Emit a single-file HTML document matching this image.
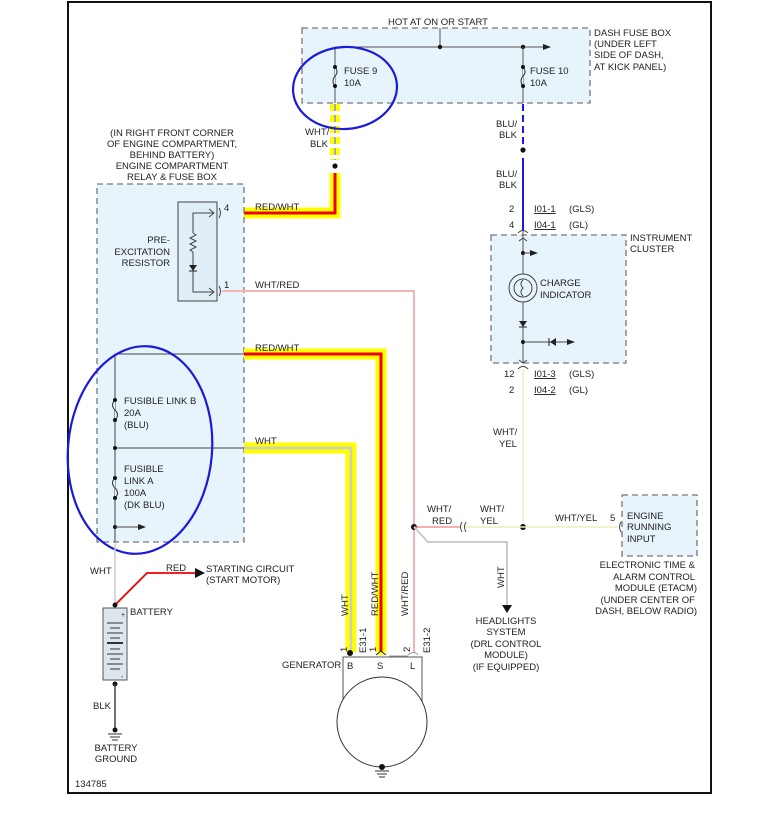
<!DOCTYPE html>
<html><head><meta charset="utf-8"><style>
html,body{margin:0;padding:0;background:#fff;}
svg{display:block;}
text{font-family:"Liberation Sans",sans-serif;font-size:9.5px;fill:#222;}
</style></head><body>
<svg width="771" height="815" viewBox="0 0 771 815" xmlns="http://www.w3.org/2000/svg">
<defs>
<marker id="ar" markerWidth="8" markerHeight="8" refX="7" refY="4" orient="auto" markerUnits="userSpaceOnUse"><path d="M0,1 L8,4 L0,7 z" fill="#222"/></marker>
</defs>
<rect x="68" y="2" width="643" height="791" fill="#fff" stroke="#111" stroke-width="2"/>

<!-- dash fuse box -->
<rect x="302" y="28" width="288" height="75" fill="#e8f4fc" stroke="#777" stroke-width="1.3" stroke-dasharray="6,4"/>
<text x="388" y="25">HOT AT ON OR START</text>
<line x1="440" y1="28" x2="440" y2="47" stroke="#555"/>
<line x1="335" y1="47" x2="550" y2="47" stroke="#555" marker-end="url(#ar)"/>
<circle cx="440" cy="47" r="2.2" fill="#111"/><circle cx="523" cy="47" r="2.2" fill="#111"/>
<line x1="335" y1="47" x2="335" y2="103" stroke="#555"/>
<line x1="523" y1="47" x2="523" y2="103" stroke="#555"/>
<path d="M335,67 q4,5 0,9 q-4,5 0,10" fill="#e8f4fc" stroke="#333"/>
<path d="M523,67 q4,5 0,9 q-4,5 0,10" fill="#e8f4fc" stroke="#333"/>
<circle cx="335" cy="67" r="2" fill="#111"/><circle cx="335" cy="86" r="2" fill="#111"/>
<circle cx="523" cy="67" r="2" fill="#111"/><circle cx="523" cy="86" r="2" fill="#111"/>
<text x="344" y="74">FUSE 9</text><text x="344" y="86">10A</text>
<text x="530" y="74">FUSE 10</text><text x="530" y="86">10A</text>
<text x="594" y="36">DASH FUSE BOX</text><text x="594" y="47">(UNDER LEFT</text><text x="594" y="58">SIDE OF DASH,</text><text x="594" y="70">AT KICK PANEL)</text>

<!-- fuse9 wire -->
<line x1="335" y1="104" x2="335" y2="160" stroke="#ffff00" stroke-width="10" stroke-dasharray="7,4"/>
<line x1="335" y1="104" x2="335" y2="160" stroke="#aaa" stroke-width="2" stroke-dasharray="7,4"/>
<text x="305" y="135">WHT/</text><text x="310" y="147">BLK</text>
<circle cx="335" cy="166" r="2.6" fill="#111"/>
<path d="M335,173 V213 H222" fill="none" stroke="#ffff00" stroke-width="11"/>
<path d="M335,173 V213 H222" fill="none" stroke="#ee0000" stroke-width="3"/>
<ellipse cx="345" cy="88" rx="52" ry="41" fill="none" stroke="#1a1adb" stroke-width="2.2" transform="rotate(-4 345 88)"/>

<!-- engine box -->
<text x="172" y="136" text-anchor="middle">(IN RIGHT FRONT CORNER</text>
<text x="172" y="147" text-anchor="middle">OF ENGINE COMPARTMENT,</text>
<text x="172" y="158" text-anchor="middle">BEHIND BATTERY)</text>
<text x="172" y="169" text-anchor="middle">ENGINE COMPARTMENT</text>
<text x="172" y="180" text-anchor="middle">RELAY &amp; FUSE BOX</text>
<rect x="97" y="184" width="147" height="358" fill="#e8f4fc" stroke="#777" stroke-width="1.3" stroke-dasharray="6,4"/>
<rect x="178" y="202" width="39" height="99" fill="#e0eef8" stroke="#444"/>
<path d="M193,233 V213 H213" fill="none" stroke="#444"/><path d="M209,209 L214,213 L209,217" fill="none" stroke="#444"/>
<path d="M193,233 l3,2 l-6,3 l6,3 l-6,3 l6,3 l-6,3 l3,2 V292 H213" fill="none" stroke="#444"/>
<path d="M209,288 L214,292 L209,296" fill="none" stroke="#444"/>
<path d="M189,265 h8 l-4,6 z" fill="#222"/><line x1="189" y1="271" x2="197" y2="271" stroke="#222"/>
<text x="170" y="243" text-anchor="end">PRE-</text><text x="170" y="255" text-anchor="end">EXCITATION</text><text x="170" y="266" text-anchor="end">RESISTOR</text>
<text x="224" y="211">4</text><text x="224" y="288">1</text>
<path d="M219,208 q3,5 0,10 M219,286 q3,5 0,10" fill="none" stroke="#444"/>
<text x="255" y="210">RED/WHT</text>
<path d="M222,291 H414 V652" fill="none" stroke="#f4b4b4" stroke-width="2"/>
<text x="255" y="288">WHT/RED</text>

<!-- fusible links -->
<path d="M244,354 H115 V600" fill="none" stroke="#444"/>
<line x1="115" y1="448" x2="244" y2="448" stroke="#444"/>
<path d="M115,400 q-5,5 0,10 q5,5 0,10" fill="#e8f4fc" stroke="#333"/>
<path d="M115,478 q-5,5 0,10 q5,5 0,10" fill="#e8f4fc" stroke="#333"/>
<circle cx="115" cy="400" r="2" fill="#111"/><circle cx="115" cy="420" r="2" fill="#111"/>
<circle cx="115" cy="478" r="2" fill="#111"/><circle cx="115" cy="498" r="2" fill="#111"/>
<circle cx="115" cy="448" r="2" fill="#111"/><circle cx="115" cy="527" r="2" fill="#111"/>
<line x1="115" y1="527" x2="145" y2="527" stroke="#444" marker-end="url(#ar)"/>
<text x="124" y="404">FUSIBLE LINK B</text><text x="124" y="416">20A</text><text x="124" y="428">(BLU)</text>
<text x="124" y="472">FUSIBLE</text><text x="124" y="484">LINK A</text><text x="124" y="496">100A</text><text x="124" y="508">(DK BLU)</text>
<path d="M244,354 H381 V652" fill="none" stroke="#ffff00" stroke-width="11"/>
<path d="M244,354 H381 V652" fill="none" stroke="#ee0000" stroke-width="3"/>
<text x="255" y="351">RED/WHT</text>
<path d="M244,448 H351 V652" fill="none" stroke="#ffff00" stroke-width="11"/>
<path d="M244,448 H351 V652" fill="none" stroke="#ccc" stroke-width="2.5"/>
<text x="255" y="444">WHT</text>
<ellipse cx="140" cy="450" rx="72" ry="104" fill="none" stroke="#1a1adb" stroke-width="2.2" transform="rotate(5 140 450)"/>

<!-- battery -->
<line x1="115" y1="542" x2="115" y2="605" stroke="#ccc" stroke-width="1.5"/>
<text x="90" y="574">WHT</text>
<polyline points="115,605 147,573 198,573" fill="none" stroke="#ee0000" stroke-width="1.8"/>
<path d="M195,568 L205,573 L195,578 z" fill="#111"/>
<text x="166" y="571">RED</text>
<text x="206" y="572">STARTING CIRCUIT</text><text x="206" y="583">(START MOTOR)</text>
<circle cx="115" cy="605" r="2.5" fill="#111"/>
<rect x="103" y="608" width="24" height="72" fill="#dde6ee" stroke="#555"/>
<text x="121" y="617" style="font-size:7px">+</text><text x="121" y="679" style="font-size:7px">-</text>
<g stroke="#333">
<line x1="107" y1="623" x2="123" y2="623"/><line x1="110" y1="628" x2="120" y2="628"/>
<line x1="107" y1="633" x2="123" y2="633"/><line x1="110" y1="638" x2="120" y2="638"/>
<line x1="107" y1="643" x2="123" y2="643" stroke-width="2"/><line x1="110" y1="649" x2="120" y2="649"/>
<line x1="107" y1="654" x2="123" y2="654"/><line x1="110" y1="659" x2="120" y2="659"/>
<line x1="107" y1="664" x2="123" y2="664"/><line x1="110" y1="669" x2="120" y2="669"/>
</g>
<text x="130" y="615">BATTERY</text>
<circle cx="115" cy="684" r="2.5" fill="#111"/>
<line x1="115" y1="684" x2="115" y2="728" stroke="#444" stroke-width="1.5"/>
<text x="93" y="709">BLK</text>
<circle cx="115" cy="730" r="2.5" fill="#111"/>
<line x1="108" y1="734" x2="122" y2="734" stroke="#333"/><line x1="110" y1="737" x2="120" y2="737" stroke="#333"/><line x1="112" y1="740" x2="118" y2="740" stroke="#333"/>
<text x="116" y="751" text-anchor="middle">BATTERY</text><text x="116" y="762" text-anchor="middle">GROUND</text>
<text x="75" y="787">134785</text>

<!-- generator -->
<rect x="343" y="657" width="79" height="45" fill="#fff" stroke="#555"/>
<circle cx="382" cy="722" r="45" fill="#fff" stroke="#333"/>
<circle cx="382" cy="767" r="3" fill="#111"/>
<line x1="375" y1="771" x2="389" y2="771" stroke="#333"/><line x1="377" y1="774" x2="387" y2="774" stroke="#333"/><line x1="379" y1="777" x2="385" y2="777" stroke="#333"/>
<circle cx="350" cy="653" r="3" fill="#111"/>
<path d="M376,655 L381,651 L386,655" fill="#ffff00" stroke="#222"/>
<path d="M389,656 H408 M408,655 q6,-5 10,0" fill="none" stroke="#999"/>
<text x="347" y="669">B</text><text x="377" y="669">S</text><text x="410" y="669">L</text>
<text x="282" y="668">GENERATOR</text>
<text transform="translate(366,653) rotate(-90)">E31-1</text>
<text transform="translate(430,653) rotate(-90)">E31-2</text>
<text transform="translate(347,652) rotate(-90)">1</text>
<text transform="translate(376,652) rotate(-90)">1</text>
<text transform="translate(410,652) rotate(-90)">2</text>
<text transform="translate(348,616) rotate(-90)">WHT</text>
<text transform="translate(378,616) rotate(-90)">RED/WHT</text>
<text transform="translate(408,616) rotate(-90)">WHT/RED</text>

<!-- right side -->
<line x1="523" y1="104" x2="523" y2="148" stroke="#1a1ae8" stroke-width="2" stroke-dasharray="7,4"/>
<text x="496" y="127">BLU/</text><text x="499" y="138">BLK</text>
<circle cx="523" cy="150" r="2.6" fill="#111"/>
<line x1="523" y1="158" x2="523" y2="230" stroke="#1a1ae8" stroke-width="2"/>
<text x="496" y="177">BLU/</text><text x="499" y="188">BLK</text>
<text x="509" y="212">2</text><text x="534" y="212" text-decoration="underline">I01-1</text><text x="569" y="212">(GLS)</text>
<text x="509" y="228">4</text><text x="534" y="228" text-decoration="underline">I04-1</text><text x="569" y="228">(GL)</text>
<rect x="491" y="235" width="135" height="128" fill="#e8f4fc" stroke="#777" stroke-width="1.3" stroke-dasharray="6,4"/>
<text x="630" y="241">INSTRUMENT</text><text x="630" y="252">CLUSTER</text>
<line x1="523" y1="230" x2="523" y2="363" stroke="#555"/>
<path d="M518,233 q5,-5 10,0 M519,241 l4,-3 l4,3 M519,360 l4,3 l4,-3 M518,369 q5,-5 10,0" fill="none" stroke="#444"/>
<circle cx="523" cy="253" r="2" fill="#111"/>
<line x1="523" y1="253" x2="537" y2="253" stroke="#444" marker-end="url(#ar)"/>
<circle cx="523" cy="288" r="14" fill="#e8f4fc" stroke="#444"/>
<circle cx="523" cy="288" r="9" fill="none" stroke="#444"/>
<path d="M523,280 q-4,4 0,8 q-4,4 0,8" fill="none" stroke="#444"/>
<text x="540" y="286">CHARGE</text><text x="540" y="298">INDICATOR</text>
<path d="M519,321 h8 l-4,6 z" fill="#222"/><line x1="519" y1="327" x2="527" y2="327" stroke="#222"/>
<circle cx="523" cy="342" r="2" fill="#111"/>
<line x1="523" y1="342" x2="574" y2="342" stroke="#444" marker-end="url(#ar)"/>
<path d="M556,338 v8 l-6,-4 z" fill="#222"/><line x1="549" y1="338" x2="549" y2="346" stroke="#222"/>
<text x="504" y="377">12</text><text x="534" y="377" text-decoration="underline">I01-3</text><text x="569" y="377">(GLS)</text>
<text x="509" y="393">2</text><text x="534" y="393" text-decoration="underline">I04-2</text><text x="569" y="393">(GL)</text>
<line x1="523" y1="369" x2="523" y2="527" stroke="#eeeebb" stroke-width="1.5"/>
<text x="493" y="435">WHT/</text><text x="499" y="447">YEL</text>
<circle cx="523" cy="527" r="3" fill="#111"/>
<circle cx="414" cy="527" r="3" fill="#111"/>
<line x1="414" y1="527" x2="460" y2="527" stroke="#f08080" stroke-width="1.2"/>
<path d="M462,522 q-3,5 0,10 M466,522 q-3,5 0,10" fill="none" stroke="#444"/>
<line x1="466" y1="527" x2="618" y2="527" stroke="#eeeebb" stroke-width="1.5"/>
<path d="M621,522 q-3,5 0,10" fill="none" stroke="#444"/>
<text x="427" y="512">WHT/</text><text x="432" y="524">RED</text>
<text x="480" y="512">WHT/</text><text x="480" y="524">YEL</text>
<text x="555" y="521">WHT/YEL</text><text x="610" y="521">5</text>
<rect x="622" y="495" width="75" height="61" fill="#e8f4fc" stroke="#777" stroke-width="1.3" stroke-dasharray="6,4"/>
<text x="627" y="519">ENGINE</text><text x="627" y="530">RUNNING</text><text x="627" y="542">INPUT</text>
<text x="695" y="568" text-anchor="end">ELECTRONIC TIME &amp;</text>
<text x="695" y="580" text-anchor="end">ALARM CONTROL</text>
<text x="697" y="591" text-anchor="end">MODULE (ETACM)</text>
<text x="695" y="603" text-anchor="end">(UNDER CENTER OF</text>
<text x="697" y="614" text-anchor="end">DASH, BELOW RADIO)</text>
<path d="M414,527 L428,542 H507 V605" fill="none" stroke="#ccc" stroke-width="2"/>
<path d="M502,605 h10 l-5,8 z" fill="#111"/>
<text transform="translate(504,588) rotate(-90)">WHT</text>
<text x="506" y="624" text-anchor="middle">HEADLIGHTS</text>
<text x="506" y="635" text-anchor="middle">SYSTEM</text>
<text x="506" y="647" text-anchor="middle">(DRL CONTROL</text>
<text x="506" y="658" text-anchor="middle">MODULE)</text>
<text x="506" y="670" text-anchor="middle">(IF EQUIPPED)</text>
</svg>
</body></html>
